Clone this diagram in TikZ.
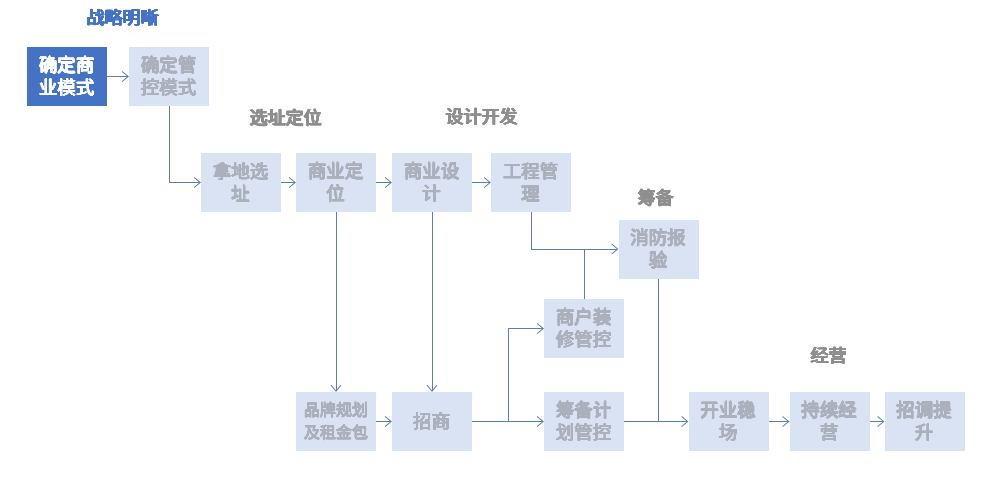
\documentclass[tikz,border=0pt]{standalone}
\usepackage{fontspec}
\usepackage{contour}
\contourlength{0.28pt}
\contournumber{12}
\newfontfamily\cjk{Noto Sans CJK SC}
\newcommand\bt[1]{\contour{.}{#1}}
\usetikzlibrary{arrows.meta}
\definecolor{boxfill}{HTML}{DAE3F3}
\definecolor{boxtext}{HTML}{ABB1BC}
\definecolor{headgray}{HTML}{8E8E8E}
\definecolor{darkblue}{HTML}{4472C4}
\definecolor{linecol}{HTML}{5D7DB6}
\tikzset{
  stepbox/.style={fill=boxfill, text=boxtext, minimum width=80pt, minimum height=59pt,
    inner sep=0pt, align=center, font=\cjk\fontsize{18.5}{22.5}\selectfont},
  smallbox/.style={stepbox, font=\cjk\fontsize{16}{22.5}\selectfont},
  keybox/.style={stepbox, fill=darkblue, text=white},
  head/.style={text=headgray, font=\cjk\fontsize{18}{20}\selectfont, inner sep=0pt},
  conn/.style={draw=linecol, line width=0.8pt, -{Straight Barb[length=6pt,width=10pt,line width=0.8pt]}},
  plain/.style={draw=linecol, line width=0.8pt}
}
\begin{document}
\begin{tikzpicture}[x=1pt,y=-1pt]
\useasboundingbox (0,0) rectangle (989,496);
% headings
\node[head, text=darkblue] (h1) at (123,18) {\bt{战略明晰}};
\node[head] (h2) at (286,118) {\bt{选址定位}};
\node[head] (h3) at (482,117) {\bt{设计开发}};
\node[head] (h4) at (656,198) {\bt{筹备}};
\node[head] (h5) at (829,356) {\bt{经营}};
% boxes
\node[keybox] (m1) at (67,76.5) {\bt{确定商}\\\bt{业模式}};
\node[stepbox] (m2) at (169,76.5) {\bt{确定管}\\\bt{控模式}};
\node[stepbox] (a1) at (241,182.5) {\bt{拿地选}\\\bt{址}};
\node[stepbox] (a2) at (336,182.5) {\bt{商业定}\\\bt{位}};
\node[stepbox] (d1) at (432,182.5) {\bt{商业设}\\\bt{计}};
\node[stepbox] (d2) at (531,182.5) {\bt{工程管}\\\bt{理}};
\node[stepbox] (x1) at (658.5,249) {\bt{消防报}\\\bt{验}};
\node[stepbox] (x2) at (584,328.5) {\bt{商户装}\\\bt{修管控}};
\node[smallbox] (b1) at (336,421.5) {\bt{品牌规划}\\\bt{及租金包}};
\node[stepbox] (b2) at (432,421.5) {\bt{招商}};
\node[stepbox] (x3) at (584,421.5) {\bt{筹备计}\\\bt{划管控}};
\node[stepbox] (o1) at (728.5,421.5) {\bt{开业稳}\\\bt{场}};
\node[stepbox] (o2) at (829.5,421.5) {\bt{持续经}\\\bt{营}};
\node[stepbox] (o3) at (924.5,421.5) {\bt{招调提}\\\bt{升}};
% connectors
\draw[conn] (m1) -- (m2);
\draw[conn] (m2.south) |- (a1.west);
\draw[conn] (a1) -- (a2);
\draw[conn] (a2) -- (d1);
\draw[conn] (d1) -- (d2);
\draw[conn] (a2.south) -- (b1.north);
\draw[conn] (d1.south) -- (b2.north);
\draw[conn] (b1) -- (b2);
\draw[conn] (b2) -- (x3);
\coordinate (br) at (508,421.5);
\draw[conn] (br) |- (x2.west);
\draw[conn] (d2.south) |- (x1.west);
\coordinate (jn) at (x2.north |- x1.west);
\draw[plain] (x2.north) -- (jn);
\draw[conn] (x3) -- (o1);
\coordinate (jo) at (x1.south |- o1.west);
\draw[plain] (x1.south) -- (jo);
\draw[conn] (o1) -- (o2);
\draw[conn] (o2) -- (o3);
\end{tikzpicture}
\end{document}
